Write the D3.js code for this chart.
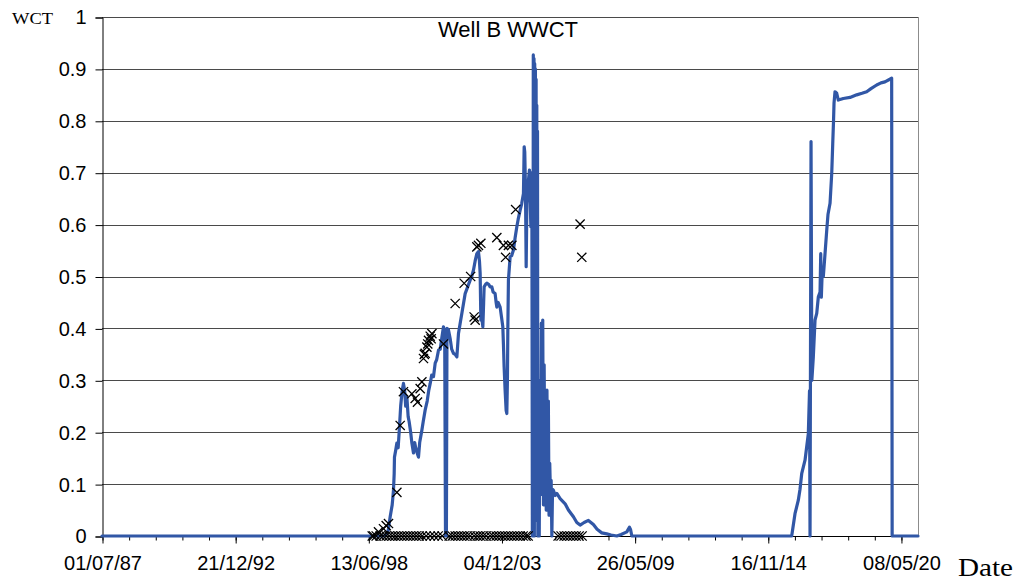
<!DOCTYPE html>
<html>
<head>
<meta charset="utf-8">
<script src="https://cdn.jsdelivr.net/npm/d3@7"></script>
<style>
  html, body { margin: 0; padding: 0; background: #fff; }
  svg { display: block; }
</style>
</head>
<body>
<svg id="chart" width="1020" height="587"></svg>
<script>
// ---- Data -------------------------------------------------------------
const chartTitle = "Well B WWCT";
const yAxisTitle = "WCT";
const xAxisTitle = "Date";

// X-axis labels (dd/mm/yy), one every 2000 days
const xTickLabels = ["01/07/87", "21/12/92", "13/06/98", "04/12/03", "26/05/09", "16/11/14", "08/05/20"];
const yTickValues = [0, 0.1, 0.2, 0.3, 0.4, 0.5, 0.6, 0.7, 0.8, 0.9, 1];

// Simulated well water cut (decimal year, fraction)
const simYear = [
  1987.496, 1999.141, 1999.264, 1999.346, 1999.429, 1999.482, 1999.511, 1999.523, 1999.573, 1999.622,
  1999.675, 1999.716, 1999.778, 1999.840, 1999.893, 1999.942, 1999.984, 2000.033, 2000.086, 2000.127,
  2000.189, 2000.238, 2000.304, 2000.354, 2000.395, 2000.456, 2000.510, 2000.559, 2000.649, 2000.703,
  2000.785, 2000.867, 2000.929, 2000.991, 2001.052, 2001.126, 2001.196, 2001.258, 2001.332, 2001.402,
  2001.463, 2001.537, 2001.587, 2001.620, 2001.657, 2001.681, 2001.743, 2001.813, 2001.874, 2001.948,
  2002.018, 2002.088, 2002.154, 2002.224, 2002.294, 2002.368, 2002.429, 2002.532, 2002.635, 2002.697,
  2002.770, 2002.840, 2002.910, 2002.976, 2003.017, 2003.046, 2003.075, 2003.116, 2003.157, 2003.190,
  2003.210, 2003.272, 2003.321, 2003.395, 2003.457, 2003.527, 2003.580, 2003.662, 2003.704, 2003.732,
  2003.786, 2003.868, 2003.930, 2003.979, 2004.004, 2004.032, 2004.074, 2004.115, 2004.143, 2004.168,
  2004.185, 2004.209, 2004.279, 2004.341, 2004.415, 2004.485, 2004.554, 2004.608, 2004.690, 2004.752,
  2004.826, 2004.855, 2004.879, 2004.908, 2004.937, 2004.966, 2005.019, 2005.072, 2005.101, 2005.130,
  2005.155, 2005.171, 2005.192,
  // 2005 shut-in / restart cycling
  2005.216, 2005.230, 2005.245, 2005.259, 2005.274, 2005.288, 2005.302, 2005.317, 2005.331, 2005.346,
  2005.360, 2005.374, 2005.389, 2005.403, 2005.418, 2005.446, 2005.475, 2005.504, 2005.533, 2005.562,
  2005.590, 2005.619, 2005.648, 2005.677, 2005.706, 2005.734, 2005.763, 2005.792, 2005.821, 2005.850,
  2005.878, 2005.907, 2005.936, 2005.965, 2005.994, 2006.022,
  2006.059, 2006.129, 2006.199, 2006.334, 2006.540, 2006.675, 2006.881, 2007.021, 2007.156, 2007.321,
  2007.498, 2007.703, 2007.855, 2008.048, 2008.254, 2008.431, 2008.665, 2008.842, 2009.076, 2009.183,
  2009.232, 2009.282, 2015.858, 2015.994, 2016.130, 2016.200, 2016.269, 2016.405, 2016.541, 2016.590,
  2016.611, 2016.652, 2016.685, 2016.746, 2016.816, 2016.886, 2016.952, 2017.022, 2017.050, 2017.075,
  2017.104, 2017.157, 2017.227, 2017.297, 2017.350, 2017.433, 2017.503, 2017.544, 2017.577, 2017.597,
  2017.638, 2017.708, 2017.774, 2017.979, 2018.255, 2018.530, 2018.748, 2018.941, 2019.118, 2019.352,
  2019.529, 2019.693, 2019.969, 2019.989, 2021.050
];
const simWct = [
  0, 0, 0.01, 0.037, 0.06, 0.088, 0.12, 0.152, 0.165, 0.179,
  0.17, 0.20, 0.25, 0.28, 0.294, 0.28, 0.25, 0.268, 0.23, 0.22,
  0.20, 0.179, 0.16, 0.18, 0.17, 0.16, 0.152, 0.18, 0.204, 0.22,
  0.243, 0.26, 0.28, 0.294, 0.31, 0.307, 0.333, 0.34, 0.358, 0.36,
  0.38, 0.403, 0.39, 0, 0, 0.40, 0.397, 0.38, 0.36, 0.352,
  0.35, 0.345, 0.39, 0.41, 0.429, 0.45, 0.467, 0.48, 0.493, 0.50,
  0.512, 0.53, 0.544, 0.548, 0.53, 0.506, 0.416, 0.42, 0.403, 0.45,
  0.48, 0.485, 0.487, 0.485, 0.48, 0.48, 0.47, 0.467, 0.45, 0.441,
  0.45, 0.441, 0.42, 0.403, 0.37, 0.326, 0.28, 0.242, 0.236, 0.30,
  0.40, 0.493, 0.538, 0.54, 0.551, 0.575, 0.596, 0.61, 0.628, 0.64,
  0.66, 0.75, 0.74, 0.67, 0.519, 0.64, 0.68, 0.705, 0.65, 0.596,
  0.69, 0.70, 0,
  0, 0.927, 0.02, 0.92, 0, 0.91, 0.05, 0.90, 0.1, 0.88,
  0.03, 0.83, 0.1, 0.78, 0, 0.12, 0, 0.30, 0.08, 0.41,
  0.10, 0.416, 0.06, 0.33, 0.10, 0.27, 0.05, 0.281, 0.10, 0.26,
  0.04, 0.14, 0.08, 0.107, 0, 0.09,
  0.088, 0.078, 0.082, 0.072, 0.062, 0.05, 0.037, 0.026, 0.021, 0.026,
  0.03, 0.022, 0.013, 0.006, 0.004, 0.002, 0, 0.003, 0.008, 0.017,
  0.012, 0, 0, 0.043, 0.069, 0.09, 0.12, 0.146, 0.197, 0.28,
  0, 0.76, 0.30, 0.345, 0.416, 0.429, 0.461, 0.47, 0.544, 0.46,
  0.50, 0.50, 0.544, 0.589, 0.62, 0.641, 0.699, 0.756, 0.80, 0.834,
  0.856, 0.853, 0.84, 0.843, 0.845, 0.85, 0.853, 0.856, 0.862, 0.869,
  0.873, 0.875, 0.882, 0, 0
];

// Measured water cut samples (decimal year, fraction)
const obsYear = [
  1998.660, 1998.866, 1999.071, 1999.182, 1999.277, 1999.622, 1999.758, 1999.893, 2000.238, 2000.374,
  2000.469, 2000.580, 2000.649, 2000.715, 2000.750, 2000.785, 2000.855, 2000.890, 2000.921, 2000.991,
  2001.030, 2001.061, 2001.537, 2002.018, 2002.388, 2002.655, 2002.799, 2002.840, 2002.910, 2002.976,
  2003.075, 2003.732, 2004.004, 2004.094, 2004.209, 2004.349, 2004.505, 2007.156, 2007.226,
  1998.607, 1998.771, 1998.935, 1999.058, 1999.182, 1999.305, 1999.429, 1999.552, 1999.675, 1999.799,
  1999.922, 2000.045, 2000.168, 2000.292, 2000.415, 2000.538, 2000.661, 2000.825, 2000.991, 2001.155,
  2001.319, 2001.484, 2001.772, 2001.895, 2002.018, 2002.141, 2002.265, 2002.388, 2002.511, 2002.635,
  2002.799, 2002.923, 2003.046, 2003.169, 2003.293, 2003.457, 2003.580, 2003.704, 2003.827, 2003.950,
  2004.074, 2004.197, 2004.320, 2004.443, 2004.567, 2004.690, 2004.813, 2004.936, 2005.019,
  2006.252, 2006.375, 2006.499, 2006.622, 2006.745, 2006.868, 2006.992, 2007.115, 2007.238
];
const obsWct = [
  0, 0.008, 0.014, 0.02, 0.024, 0.084, 0.213, 0.278, 0.274, 0.265,
  0.258, 0.284, 0.297, 0.342, 0.35, 0.352, 0.364, 0.37, 0.377, 0.385,
  0.38, 0.39, 0.37, 0.448, 0.487, 0.50, 0.422, 0.416, 0.557, 0.56,
  0.564, 0.575, 0.56, 0.537, 0.56, 0.56, 0.629, 0.601, 0.537,
  0, 0, 0, 0, 0, 0, 0, 0, 0, 0,
  0, 0, 0, 0, 0, 0, 0, 0, 0, 0,
  0, 0, 0, 0, 0, 0, 0, 0, 0, 0,
  0, 0, 0, 0, 0, 0, 0, 0, 0, 0,
  0, 0, 0, 0, 0, 0, 0, 0, 0,
  0, 0, 0, 0, 0, 0, 0, 0, 0
];

// ---- Helpers ----------------------------------------------------------
function yearToDate(y) {
  const Y = Math.floor(y);
  const a = Date.UTC(Y, 0, 1), b = Date.UTC(Y + 1, 0, 1);
  return new Date(a + (y - Y) * (b - a));
}
const parseLabel = d3.utcParse("%d/%m/%y");

const simData = simYear.map((y, i) => ({ date: yearToDate(y), v: simWct[i] }));
const obsData = obsYear.map((y, i) => ({ date: yearToDate(y), v: obsWct[i] }));

// ---- Layout -----------------------------------------------------------
const plot = { left: 102, right: 918, top: 17, bottom: 536 };
const svg = d3.select("#chart");

const x = d3.scaleUtc()
  .domain([parseLabel(xTickLabels[0]), simData[simData.length - 1].date])
  .range([plot.left, plot.right]);
const y = d3.scaleLinear().domain([0, 1]).range([plot.bottom, plot.top]);

svg.append("rect").attr("width", 1020).attr("height", 587).attr("fill", "#fff");

// Horizontal gridlines
svg.append("g").selectAll("line")
  .data(yTickValues.filter(v => v > 0))
  .join("line")
  .attr("x1", plot.left).attr("x2", plot.right)
  .attr("y1", d => Math.round(y(d)) + 0.5).attr("y2", d => Math.round(y(d)) + 0.5)
  .attr("stroke", "#4a4a4a").attr("stroke-width", 1);

// Plot-area right border
svg.append("line")
  .attr("x1", plot.right + 0.5).attr("x2", plot.right + 0.5)
  .attr("y1", plot.top).attr("y2", plot.bottom)
  .attr("stroke", "#8c8c8c").attr("stroke-width", 1);

const font = "'Liberation Sans', Arial, Helvetica, sans-serif";
const serif = "'Liberation Serif', 'Times New Roman', serif";

// Y axis
const yAxis = d3.axisLeft(y).tickValues(yTickValues).tickSize(7).tickPadding(9)
  .tickFormat(d => d3.format("")(d));
const gy = svg.append("g").attr("transform", `translate(${plot.left + 0.5},0.5)`).call(yAxis);
gy.select(".domain").attr("stroke", "#000");
gy.selectAll(".tick line").attr("stroke", "#000");
gy.selectAll(".tick text").attr("font-family", font).attr("font-size", 20).attr("fill", "#000");

// X axis: major ticks every 2000 days, minor ticks every 400 days
const tickDates = xTickLabels.map(parseLabel);
const minorDates = d3.range(0, 200)
  .map(i => d3.utcDay.offset(tickDates[0], i * 400))
  .filter(d => d <= x.domain()[1]);
const gxMinor = svg.append("g").attr("transform", `translate(0.5,${plot.bottom + 0.5})`)
  .call(d3.axisBottom(x).tickValues(minorDates).tickSize(4).tickFormat(""));
gxMinor.select(".domain").remove();
gxMinor.selectAll(".tick line").attr("stroke", "#000");

const xAxis = d3.axisBottom(x).tickValues(tickDates).tickSize(7).tickPadding(12)
  .tickFormat((d, i) => xTickLabels[i]);
const gx = svg.append("g").attr("transform", `translate(0.5,${plot.bottom + 0.5})`).call(xAxis);
gx.select(".domain").attr("stroke", "#000").attr("d", `M${plot.left},0H${plot.right}`);
gx.selectAll(".tick line").attr("stroke", "#000");
gx.selectAll(".tick text").attr("font-family", font).attr("font-size", 20).attr("fill", "#000");

// Simulated water cut line
const line = d3.line().x(d => x(d.date)).y(d => y(d.v));
svg.append("path")
  .datum(simData)
  .attr("d", line)
  .attr("fill", "none")
  .attr("stroke", "#3157a6")
  .attr("stroke-width", 3.2)
  .attr("stroke-linejoin", "round")
  .attr("stroke-linecap", "round");

// Measured points as crosses
const s = 4.6;
svg.append("g").selectAll("path")
  .data(obsData)
  .join("path")
  .attr("transform", d => `translate(${x(d.date)},${y(d.v)})`)
  .attr("d", `M${-s},${-s}L${s},${s}M${-s},${s}L${s},${-s}`)
  .attr("stroke", "#000").attr("stroke-width", 1.3).attr("fill", "none");

// Titles
svg.append("text")
  .attr("x", 508).attr("y", 37)
  .attr("text-anchor", "middle")
  .attr("font-family", font).attr("font-size", 22).attr("fill", "#000")
  .text(chartTitle);

svg.append("text")
  .attr("x", 12).attr("y", 24)
  .attr("font-family", serif).attr("font-size", 17).attr("fill", "#000")
  .attr("textLength", 41).attr("lengthAdjust", "spacingAndGlyphs")
  .text(yAxisTitle);

svg.append("text")
  .attr("x", 958).attr("y", 576)
  .attr("font-family", serif).attr("font-size", 25).attr("fill", "#000")
  .attr("textLength", 55).attr("lengthAdjust", "spacingAndGlyphs")
  .text(xAxisTitle);
</script>
</body>
</html>
